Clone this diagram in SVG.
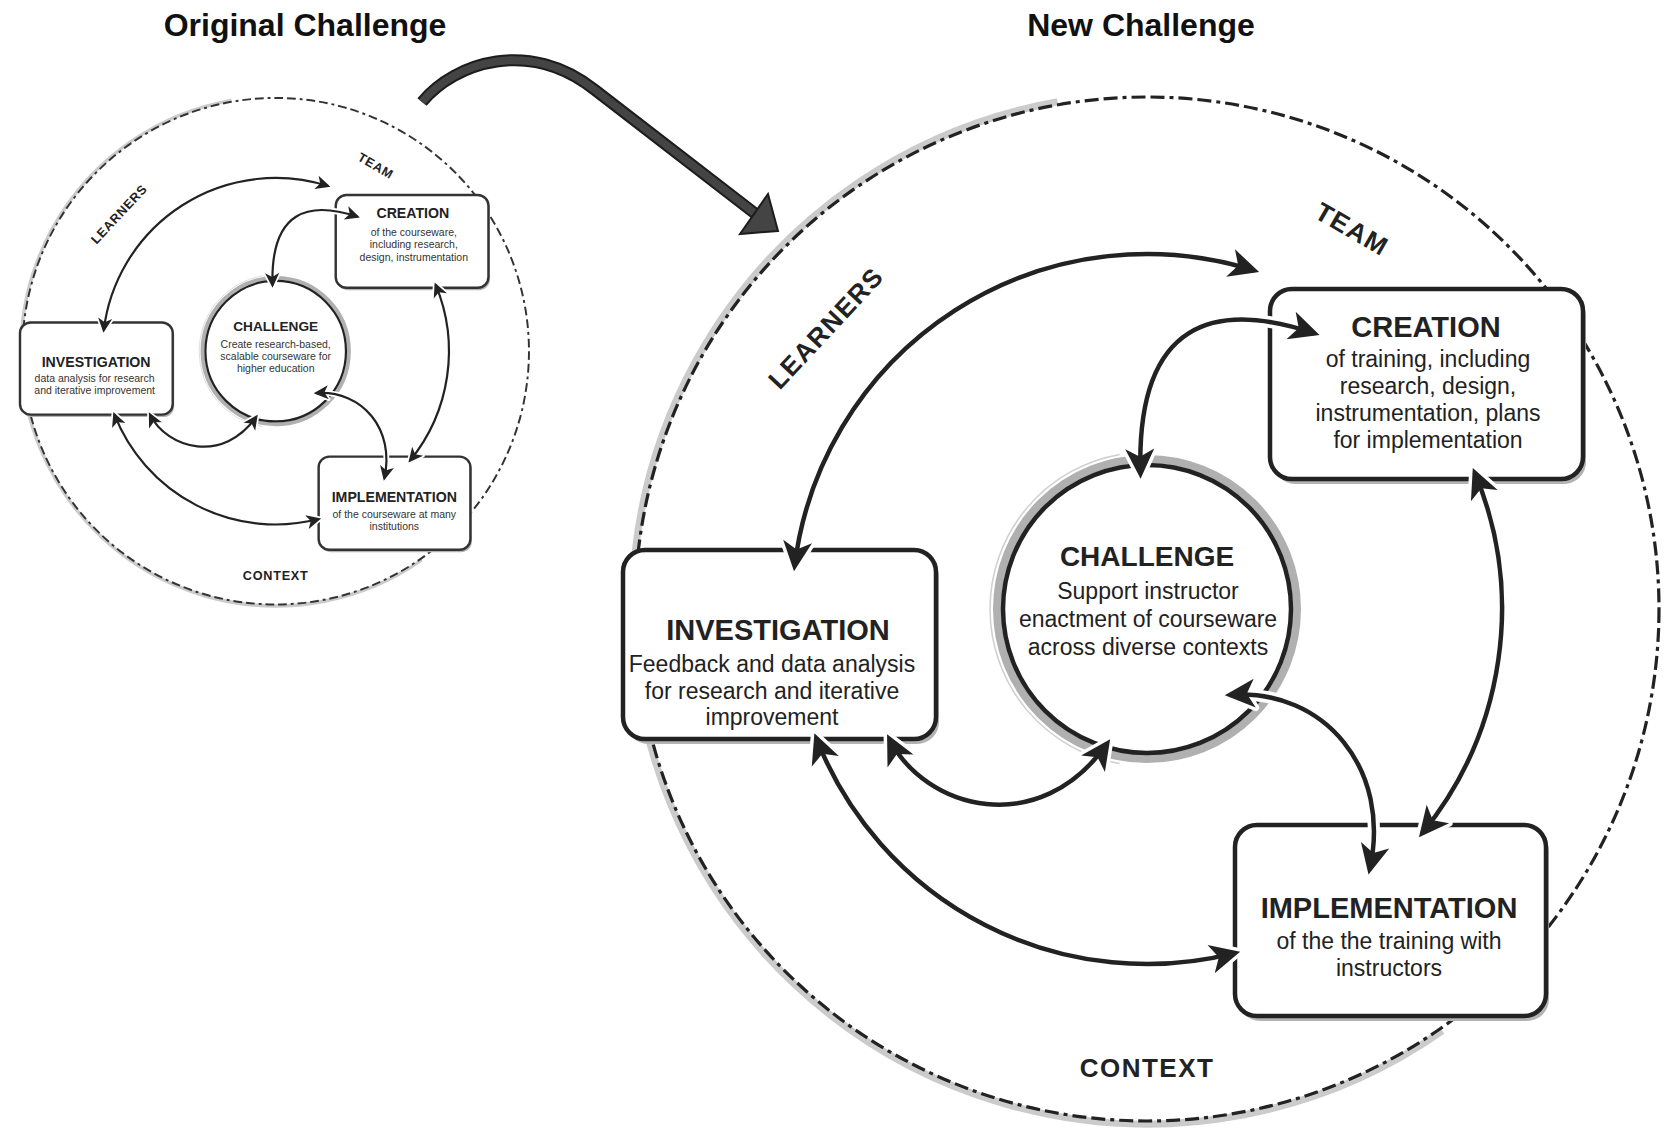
<svg xmlns="http://www.w3.org/2000/svg" width="1672" height="1134" viewBox="0 0 1672 1134">
<defs>
<style>
.t{font-family:"Liberation Sans",Arial,Helvetica,sans-serif;fill:#222;text-anchor:middle}
.ttl{font-weight:bold;font-size:29px}
.cttl{font-weight:bold;font-size:28px}
.body{font-size:23px}
.sbody{font-size:21.5px;fill:#333}
.lab{font-weight:bold;font-size:26px;letter-spacing:1.5px}
.head{font-weight:bold;font-size:32px;fill:#111}
.ring{fill:none;stroke:#222;stroke-width:3.2;stroke-dasharray:14 5 14 5 4 5}
.sring{fill:none;stroke:#333;stroke-width:4;stroke-dasharray:18 8 18 8 6 8}
.band{fill:none;stroke:#cbcbcb;stroke-width:7}
.box{fill:#fff;stroke:#222;stroke-width:4.5}
.sbox{fill:#fff;stroke:#333;stroke-width:5}
.shadow{fill:#b3b3b3}
.cgray{fill:none;stroke:#b0b0b0;stroke-width:8}
.cthin{fill:none;stroke:#cfcfcf;stroke-width:1.5}
.cblack{fill:#fff;stroke:#222;stroke-width:4.5}
.halo{fill:none;stroke:#fff;stroke-width:12;marker-start:url(#ahw);marker-end:url(#ahw)}
.ln{fill:none;stroke:#222;stroke-width:4.5;marker-start:url(#ah);marker-end:url(#ah)}
</style>
<marker id="ah" viewBox="-30 -16 36 32" refX="0" refY="0" markerWidth="36" markerHeight="32" markerUnits="userSpaceOnUse" orient="auto-start-reverse" overflow="visible">
<path d="M5,0 L-25,-14.5 L-17,0 L-25,14.5 Z" fill="#222"/>
</marker>
<marker id="ahw" viewBox="-30 -16 36 32" refX="0" refY="0" markerWidth="36" markerHeight="32" markerUnits="userSpaceOnUse" orient="auto-start-reverse" overflow="visible">
<path d="M5,0 L-25,-14.5 L-17,0 L-25,14.5 Z" fill="#fff" stroke="#fff" stroke-width="7" stroke-linejoin="round"/>
</marker>
</defs>
<rect width="1672" height="1134" fill="#fff"/>

<g id="headings">
<text class="t head" x="305" y="36">Original Challenge</text>
<text class="t head" x="1141" y="36">New Challenge</text>
</g>

<g id="transfer-arrow">
<path d="M 422 102 C 455 62, 530 38, 595 90 L 757 215" fill="none" stroke="#1c1c1c" stroke-width="12"/>
<path d="M 422 102 C 455 62, 530 38, 595 90 L 757 215" fill="none" stroke="#444" stroke-width="8"/>
<polygon points="778,231 740,234 768,194" fill="#444" stroke="#1c1c1c" stroke-width="2"/>
</g>

<!-- ORIGINAL (small) diagram, same geometry scaled -->
<g id="original" transform="translate(275.7 351.2) scale(0.488) translate(-1147 -609)">
<g id="orig-context-ring">
<path class="band" d="M 1056.4 94.9 A 522 522 0 1 0 1446.4 1036.6"/>
<circle class="sring" cx="1147" cy="609" r="519"/>
</g>
<g id="orig-labels">
<text class="t lab" transform="translate(826 328) rotate(-47)" y="9">LEARNERS</text>
<text class="t lab" transform="translate(1352 229) rotate(30)" y="9">TEAM</text>
<text class="t lab" x="1147" y="1077">CONTEXT</text>
</g>
<g id="orig-challenge">
<circle class="cgray" cx="1147" cy="609" r="150"/>
<path class="cthin" d="M 1119.7 454.4 A 157 157 0 0 0 1119.7 763.6"/>
<circle class="cblack" cx="1147" cy="609" r="144"/>
<text class="t cttl" x="1147" y="567">CHALLENGE</text>
<text class="t sbody" x="1147" y="603">Create research-based,</text>
<text class="t sbody" x="1147" y="627">scalable courseware for</text>
<text class="t sbody" x="1147" y="651">higher education</text>
</g>
<g id="orig-creation">
<rect class="shadow" x="1273" y="294" width="313" height="190" rx="22"/>
<rect class="sbox" x="1270" y="289" width="313" height="190" rx="22"/>
<text class="t ttl" x="1428" y="337">CREATION</text>
<text class="t sbody" x="1430" y="372">of the courseware,</text>
<text class="t sbody" x="1430" y="398">including research,</text>
<text class="t sbody" x="1430" y="424">design, instrumentation</text>
</g>
<g id="orig-investigation">
<rect class="shadow" x="626" y="555" width="313" height="189" rx="22"/>
<rect class="sbox" x="623" y="550" width="313" height="189" rx="22"/>
<text class="t ttl" x="779" y="641">INVESTIGATION</text>
<text class="t sbody" x="776" y="671.5">data analysis for research</text>
<text class="t sbody" x="776" y="697">and iterative improvement</text>
</g>
<g id="orig-implementation">
<rect class="shadow" x="1238" y="830" width="311" height="191" rx="22"/>
<rect class="sbox" x="1235" y="825" width="311" height="191" rx="22"/>
<text class="t ttl" x="1390" y="919">IMPLEMENTATION</text>
<text class="t sbody" x="1390" y="950">of the courseware at many</text>
<text class="t sbody" x="1390" y="975">institutions</text>
</g>
<g id="orig-connectors">
<path class="halo" d="M 1254.4 270.6 A 355 355 0 0 0 794.6 566.35"/>
<path class="halo" d="M 1474.7 472.6 A 355 355 0 0 1 1422.1 833.4"/>
<path class="halo" d="M 816.2 738 A 355 355 0 0 0 1235.3 952.9"/>
<path class="halo" d="M 1140.45 473.8 C 1136 320, 1215 300, 1314.8 333.5"/>
<path class="halo" d="M 889.3 738.7 C 925 810, 1040 840, 1107.3 743.3"/>
<path class="halo" d="M 1229.8 694.9 C 1325 688, 1392 770, 1369.6 869.6"/>
<path class="ln" d="M 1254.4 270.6 A 355 355 0 0 0 794.6 566.35"/>
<path class="ln" d="M 1474.7 472.6 A 355 355 0 0 1 1422.1 833.4"/>
<path class="ln" d="M 816.2 738 A 355 355 0 0 0 1235.3 952.9"/>
<path class="ln" d="M 1140.45 473.8 C 1136 320, 1215 300, 1314.8 333.5"/>
<path class="ln" d="M 889.3 738.7 C 925 810, 1040 840, 1107.3 743.3"/>
<path class="ln" d="M 1229.8 694.9 C 1325 688, 1392 770, 1369.6 869.6"/>
</g>
</g>

<!-- NEW (large) diagram -->
<g id="new">
<g id="new-context-ring">
<path class="band" d="M 1057.6 101.8 A 515 515 0 1 0 1442.4 1030.9"/>
<circle class="ring" cx="1147" cy="609" r="512"/>
</g>
<g id="new-labels">
<text class="t lab" transform="translate(826 328) rotate(-47)" y="9">LEARNERS</text>
<text class="t lab" transform="translate(1352 229) rotate(30)" y="9">TEAM</text>
<text class="t lab" x="1147" y="1077">CONTEXT</text>
</g>
<g id="new-challenge">
<circle class="cgray" cx="1147" cy="609" r="150"/>
<path class="cthin" d="M 1119.7 454.4 A 157 157 0 0 0 1119.7 763.6"/>
<circle class="cblack" cx="1147" cy="609" r="144"/>
<text class="t cttl" x="1147" y="566">CHALLENGE</text>
<text class="t body" x="1148" y="599">Support instructor</text>
<text class="t body" x="1148" y="627">enactment of courseware</text>
<text class="t body" x="1148" y="655">across diverse contexts</text>
</g>
<g id="new-creation">
<rect class="shadow" x="1273" y="294" width="313" height="190" rx="22"/>
<rect class="box" x="1270" y="289" width="313" height="190" rx="22"/>
<text class="t ttl" x="1426" y="337">CREATION</text>
<text class="t body" x="1428" y="367">of training, including</text>
<text class="t body" x="1428" y="394">research, design,</text>
<text class="t body" x="1428" y="421">instrumentation, plans</text>
<text class="t body" x="1428" y="448">for implementation</text>
</g>
<g id="new-investigation">
<rect class="shadow" x="626" y="555" width="313" height="189" rx="22"/>
<rect class="box" x="623" y="550" width="313" height="189" rx="22"/>
<text class="t ttl" x="778" y="640">INVESTIGATION</text>
<text class="t body" x="772" y="672">Feedback and data analysis</text>
<text class="t body" x="772" y="699">for research and iterative</text>
<text class="t body" x="772" y="725">improvement</text>
</g>
<g id="new-implementation">
<rect class="shadow" x="1238" y="830" width="311" height="191" rx="22"/>
<rect class="box" x="1235" y="825" width="311" height="191" rx="22"/>
<text class="t ttl" x="1389" y="918">IMPLEMENTATION</text>
<text class="t body" x="1389" y="949">of the the training with</text>
<text class="t body" x="1389" y="976">instructors</text>
</g>
<g id="new-connectors">
<path class="halo" d="M 1254.4 270.6 A 355 355 0 0 0 794.6 566.35"/>
<path class="halo" d="M 1474.7 472.6 A 355 355 0 0 1 1422.1 833.4"/>
<path class="halo" d="M 816.2 738 A 355 355 0 0 0 1235.3 952.9"/>
<path class="halo" d="M 1140.45 473.8 C 1136 320, 1215 300, 1314.8 333.5"/>
<path class="halo" d="M 889.3 738.7 C 925 810, 1040 840, 1107.3 743.3"/>
<path class="halo" d="M 1229.8 694.9 C 1325 688, 1392 770, 1369.6 869.6"/>
<path class="ln" d="M 1254.4 270.6 A 355 355 0 0 0 794.6 566.35"/>
<path class="ln" d="M 1474.7 472.6 A 355 355 0 0 1 1422.1 833.4"/>
<path class="ln" d="M 816.2 738 A 355 355 0 0 0 1235.3 952.9"/>
<path class="ln" d="M 1140.45 473.8 C 1136 320, 1215 300, 1314.8 333.5"/>
<path class="ln" d="M 889.3 738.7 C 925 810, 1040 840, 1107.3 743.3"/>
<path class="ln" d="M 1229.8 694.9 C 1325 688, 1392 770, 1369.6 869.6"/>
</g>
</g>
</svg>
